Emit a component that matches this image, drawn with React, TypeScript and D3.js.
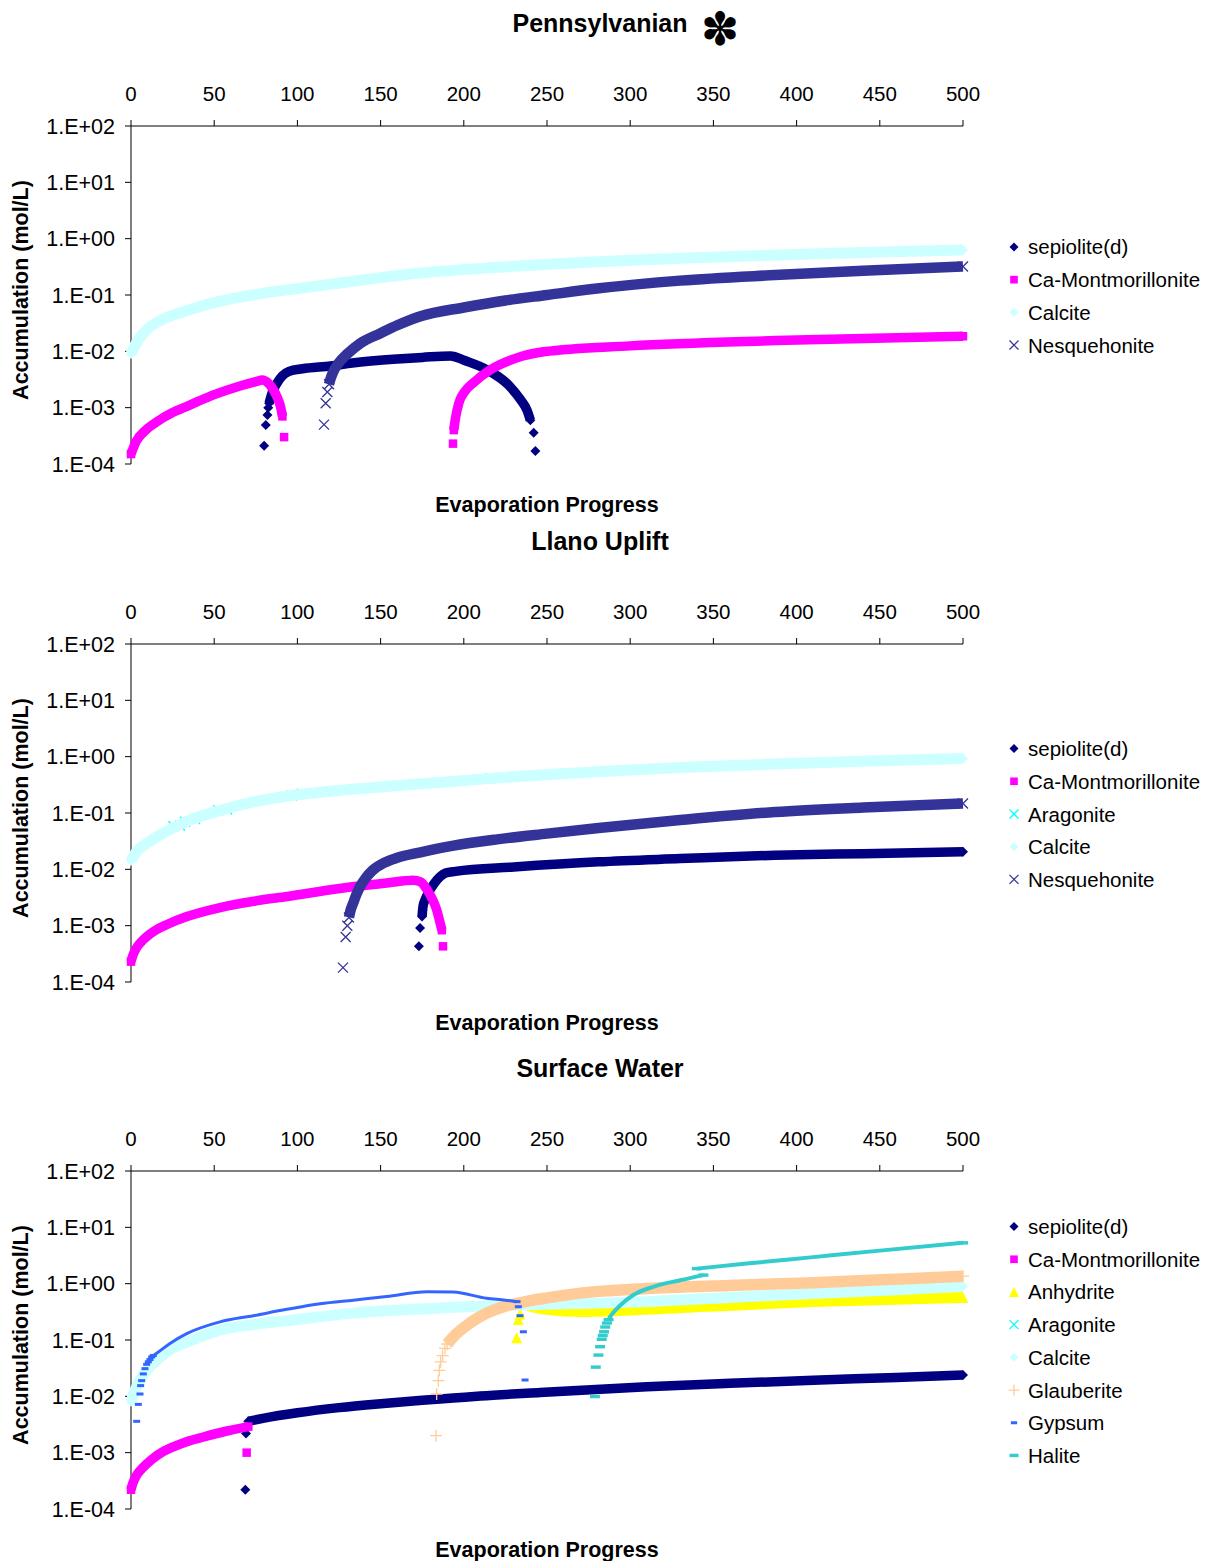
import React from 'react';
import * as d3 from 'd3';

type P = [number, number];

// ---------- axis data ----------
const X_TICKS = [0, 50, 100, 150, 200, 250, 300, 350, 400, 450, 500];
const Y_TICKS = [1e-4, 1e-3, 1e-2, 1e-1, 1, 10, 100];
const Y_TICK_LABELS = ['1.E-04', '1.E-03', '1.E-02', '1.E-01', '1.E+00', '1.E+01', '1.E+02'];
const X_TITLE = 'Evaporation Progress';
const Y_TITLE = 'Accumulation (mol/L)';
const PANEL_TITLES = ['Pennsylvanian', 'Llano Uplift', 'Surface Water'];

// ---------- Pennsylvanian ----------
const pa_sepiolite_iso: P[] = [[80, 2.1e-4], [81, 4.9e-4], [82, 7.4e-4], [82.5, 1e-3], [242, 3.6e-4], [243, 1.7e-4]];
const pa_sepiolite_band: P[] = [[83, 1.2e-3], [85, 1.9e-3], [88, 2.8e-3], [91, 3.7e-3], [95, 4.4e-3], [103, 4.9e-3], [120, 5.5e-3], [133, 6.2e-3], [160, 7.3e-3], [175, 7.8e-3], [192, 8.3e-3], [201, 6.8e-3], [214, 4.7e-3], [227, 2.5e-3], [234, 1.4e-3], [238, 9e-4], [240, 6e-4]];
const pa_camont_band1: P[] = [[0, 1.5e-4], [3, 2.5e-4], [8, 3.8e-4], [15, 5.5e-4], [25, 8.2e-4], [35, 1.1e-3], [50, 1.7e-3], [65, 2.4e-3], [75, 2.9e-3], [79, 3.1e-3], [82, 2.8e-3], [85, 2.2e-3], [88, 1.5e-3], [90, 1e-3], [91, 7e-4]];
const pa_camont_iso: P[] = [[92, 3e-4], [193.5, 2.3e-4]];
const pa_camont_band2: P[] = [[194, 4e-4], [195, 6.5e-4], [197, 1.2e-3], [201, 2e-3], [206, 2.8e-3], [216, 4.7e-3], [231, 7.5e-3], [248, 9.8e-3], [300, 1.25e-2], [387, 1.55e-2], [500, 1.85e-2]];
const pa_calcite_band: P[] = [[0, 0.009], [2, 0.012], [5, 0.017], [10, 0.025], [20, 0.038], [30, 0.049], [41, 0.062], [60, 0.085], [80, 0.108], [100, 0.13], [130, 0.17], [174, 0.245], [220, 0.31], [280, 0.39], [330, 0.45], [387, 0.51], [440, 0.57], [500, 0.63]];
const pa_nesq_iso: P[] = [[116, 5e-4], [117, 1.2e-3], [118, 1.9e-3]];
const pa_nesq_band: P[] = [[119, 2.6e-3], [120, 3.3e-3], [122, 4.6e-3], [125, 6.3e-3], [130, 9e-3], [138, 1.4e-2], [150, 2.1e-2], [160, 2.9e-2], [174, 4.2e-2], [200, 6e-2], [225, 8e-2], [250, 0.1], [280, 0.13], [330, 0.18], [387, 0.226], [440, 0.27], [500, 0.32]];

// ---------- Llano Uplift ----------
const ll_sepiolite_iso: P[] = [[173, 4.3e-4], [173.7, 9.1e-4]];
const ll_sepiolite_band: P[] = [[174.9, 1.45e-3], [175.5, 2.2e-3], [177, 3e-3], [179.7, 4.3e-3], [182, 5.5e-3], [185.7, 7.4e-3], [189, 8.6e-3], [195, 9.2e-3], [230, 1.1e-2], [281, 1.36e-2], [330, 1.55e-2], [387, 1.78e-2], [440, 1.9e-2], [500, 2.05e-2]];
const ll_camont_band: P[] = [[0, 2.3e-4], [1, 2.9e-4], [3, 3.9e-4], [6, 5.1e-4], [10, 6.6e-4], [15, 8.4e-4], [22, 1.06e-3], [33.6, 1.45e-3], [53.5, 2.1e-3], [75, 2.75e-3], [94, 3.3e-3], [133, 4.9e-3], [155, 5.8e-3], [169.5, 6.4e-3], [174, 6e-3], [178, 4.3e-3], [181, 3e-3], [183.7, 1.9e-3], [185.5, 1.2e-3], [186.8, 8.3e-4]];
const ll_camont_iso: P[] = [[187.5, 4.3e-4]];
const ll_aragonite_iso: P[] = [[25.5, 0.058], [29.4, 0.06], [32.5, 0.07], [38.5, 0.078], [52.5, 0.112], [57.7, 0.115], [96.7, 0.205], [102.7, 0.22], [216, 0.415], [385, 0.745]];
const ll_calcite_band: P[] = [[0, 0.014], [3, 0.02], [8, 0.027], [13, 0.034], [20, 0.045], [33, 0.07], [53, 0.11], [75, 0.16], [94, 0.2], [130, 0.26], [175, 0.33], [220, 0.42], [280, 0.54], [330, 0.64], [387, 0.74], [440, 0.83], [500, 0.93]];
const ll_nesq_iso: P[] = [[127.4, 1.8e-4], [129, 6.3e-4], [130, 1e-3]];
const ll_nesq_band: P[] = [[131, 1.4e-3], [132, 1.9e-3], [133.5, 2.5e-3], [135.5, 3.6e-3], [137.6, 4.9e-3], [141, 7e-3], [145, 9.5e-3], [152, 1.3e-2], [160, 1.6e-2], [174, 2e-2], [193, 2.6e-2], [220, 3.4e-2], [250, 4.3e-2], [281, 5.4e-2], [330, 7.5e-2], [387, 0.104], [440, 0.125], [500, 0.147]];

// ---------- Surface Water ----------
const sw_sepiolite_iso: P[] = [[68.7, 2.2e-4], [69.1, 2.2e-3]];
const sw_sepiolite_band: P[] = [[70.5, 3.6e-3], [80, 4.1e-3], [100, 5.1e-3], [125, 6.3e-3], [150, 7.4e-3], [175, 8.5e-3], [193.7, 9.3e-3], [210, 1.01e-2], [245.8, 1.17e-2], [310, 1.48e-2], [360, 1.7e-2], [410, 1.93e-2], [460, 2.17e-2], [500, 2.4e-2]];
const sw_camont_band: P[] = [[0, 2.2e-4], [1, 2.8e-4], [3, 3.8e-4], [6, 5e-4], [9.4, 6.3e-4], [14, 8.2e-4], [19, 1.03e-3], [25, 1.25e-3], [33, 1.55e-3], [43.5, 1.9e-3], [57, 2.4e-3], [70.5, 2.9e-3]];
const sw_camont_iso: P[] = [[69.5, 1e-3]];
const sw_anhydrite_iso: P[] = [[231.8, 0.11], [232.8, 0.23], [233.8, 0.29]];
const sw_anhydrite_band: P[] = [[235, 0.47], [240, 0.4], [250, 0.35], [270, 0.32], [300, 0.34], [350, 0.4], [410, 0.48], [460, 0.53], [500, 0.57]];
const sw_aragonite_iso: P[] = [];
const sw_calcite_band: P[] = [[0, 0.008], [3, 0.014], [6, 0.021], [9.4, 0.029], [15, 0.043], [23, 0.066], [35, 0.095], [53.5, 0.15], [75, 0.19], [93.6, 0.22], [133.6, 0.3], [193.7, 0.38], [233.8, 0.42], [310, 0.48], [360, 0.57], [410, 0.67], [460, 0.78], [500, 0.9]];
const sw_glauberite_iso: P[] = [[183.3, 2e-3], [183.7, 0.011], [184.7, 0.019], [185.3, 0.029], [186.1, 0.041], [187.3, 0.053], [188.7, 0.071]];
const sw_glauberite_band: P[] = [[190, 0.085], [193.7, 0.114], [203.7, 0.2], [213.7, 0.3], [223.8, 0.39], [240, 0.5], [250, 0.56], [270, 0.68], [310, 0.82], [360, 0.93], [410, 1.04], [460, 1.2], [500, 1.36]];
const sw_gypsum_iso: P[] = [[3.4, 3.6e-3], [4.4, 7.2e-3], [5.4, 0.011], [5.8, 0.0155], [6.4, 0.019], [7.4, 0.025], [8.4, 0.031], [9.4, 0.037], [10.4, 0.041], [11.4, 0.045], [12.4, 0.05], [232.8, 0.39], [233.8, 0.27], [235.8, 0.14], [236.8, 0.0195]];
const sw_gypsum_band: P[] = [[13.4, 0.053], [15.4, 0.058], [23.4, 0.087], [33.5, 0.13], [53.5, 0.21], [73.5, 0.27], [93.6, 0.35], [113.6, 0.44], [133.6, 0.51], [153.7, 0.59], [177.7, 0.72], [193.7, 0.71], [213.7, 0.55], [225, 0.51], [232, 0.48]];
const sw_halite_iso: P[] = [[278.8, 0.0099], [279.3, 0.033], [280.9, 0.054], [281.9, 0.076], [282.9, 0.103], [283.5, 0.12], [284.3, 0.14], [285, 0.17], [286, 0.2]];
const sw_halite_band1: P[] = [[287, 0.23], [288, 0.26], [290, 0.31], [293.9, 0.41], [301.9, 0.63], [313.9, 0.88], [330, 1.15], [344, 1.42]];
const sw_halite_band2: P[] = [[340, 1.85], [370, 2.27], [410, 2.96], [450, 3.86], [500, 5.3]];

// ---------- series styles ----------
type Shape = 'diamond' | 'square' | 'x' | 'triangle' | 'plus' | 'dash' | 'longdash';
interface Style { label: string; color: string; shape: Shape; band: number }
const STYLES: Record<string, Style> = {
  sepiolite: { label: 'sepiolite(d)', color: '#000080', shape: 'diamond', band: 9.5 },
  camont: { label: 'Ca-Montmorillonite', color: '#FF00FF', shape: 'square', band: 9.5 },
  anhydrite: { label: 'Anhydrite', color: '#FFFF00', shape: 'triangle', band: 11 },
  aragonite: { label: 'Aragonite', color: '#00FFFF', shape: 'x', band: 9 },
  calcite: { label: 'Calcite', color: '#CCFFFF', shape: 'diamond', band: 11 },
  glauberite: { label: 'Glauberite', color: '#FFCC99', shape: 'plus', band: 11.5 },
  gypsum: { label: 'Gypsum', color: '#3366FF', shape: 'dash', band: 3 },
  halite: { label: 'Halite', color: '#33CCCC', shape: 'longdash', band: 4 },
  nesq: { label: 'Nesquehonite', color: '#333399', shape: 'x', band: 10.5 },
};

interface Series { key: string; iso: P[]; bands: P[][] }

const PANELS: { title: string; top: number; series: Series[] }[] = [
  {
    title: PANEL_TITLES[0], top: 126, series: [
      { key: 'sepiolite', iso: pa_sepiolite_iso, bands: [pa_sepiolite_band] },
      { key: 'camont', iso: pa_camont_iso, bands: [pa_camont_band1, pa_camont_band2] },
      { key: 'calcite', iso: [], bands: [pa_calcite_band] },
      { key: 'nesq', iso: pa_nesq_iso, bands: [pa_nesq_band] },
    ],
  },
  {
    title: PANEL_TITLES[1], top: 644, series: [
      { key: 'sepiolite', iso: ll_sepiolite_iso, bands: [ll_sepiolite_band] },
      { key: 'camont', iso: ll_camont_iso, bands: [ll_camont_band] },
      { key: 'aragonite', iso: ll_aragonite_iso, bands: [] },
      { key: 'calcite', iso: [], bands: [ll_calcite_band] },
      { key: 'nesq', iso: ll_nesq_iso, bands: [ll_nesq_band] },
    ],
  },
  {
    title: PANEL_TITLES[2], top: 1171, series: [
      { key: 'sepiolite', iso: sw_sepiolite_iso, bands: [sw_sepiolite_band] },
      { key: 'camont', iso: sw_camont_iso, bands: [sw_camont_band] },
      { key: 'anhydrite', iso: sw_anhydrite_iso, bands: [sw_anhydrite_band] },
      { key: 'aragonite', iso: sw_aragonite_iso, bands: [] },
      { key: 'calcite', iso: [], bands: [sw_calcite_band] },
      { key: 'glauberite', iso: sw_glauberite_iso, bands: [sw_glauberite_band] },
      { key: 'gypsum', iso: sw_gypsum_iso, bands: [sw_gypsum_band] },
      { key: 'halite', iso: sw_halite_iso, bands: [sw_halite_band1, sw_halite_band2] },
    ],
  },
];

const FONT = '"Liberation Sans", Arial, Helvetica, sans-serif';
const LEFT = 131;
const RIGHT = 963;
const PH = 338;

function Marker({ shape, color, x, y, k = 1 }: { shape: Shape; color: string; x: number; y: number; k?: number }) {
  switch (shape) {
    case 'diamond': {
      const r = 5 * k;
      return <path d={`M${x},${y - r}L${x + r},${y}L${x},${y + r}L${x - r},${y}Z`} fill={color} />;
    }
    case 'square': {
      const s = 8.5 * k;
      return <rect x={x - s / 2} y={y - s / 2} width={s} height={s} fill={color} />;
    }
    case 'triangle': {
      const r = 5.5 * k;
      return <path d={`M${x},${y - r}L${x + r},${y + r}L${x - r},${y + r}Z`} fill={color} />;
    }
    case 'x': {
      const r = 5 * k;
      return <path d={`M${x - r},${y - r}L${x + r},${y + r}M${x - r},${y + r}L${x + r},${y - r}`} stroke={color} strokeWidth={1.3} fill="none" />;
    }
    case 'plus': {
      const r = 6 * k;
      return <path d={`M${x - r},${y}L${x + r},${y}M${x},${y - r}L${x},${y + r}`} stroke={color} strokeWidth={1.3} fill="none" />;
    }
    case 'dash':
      return <rect x={x - 3.5 * k} y={y - 1.5} width={7 * k} height={3} fill={color} />;
    case 'longdash':
      return <rect x={x - 5 * k} y={y - 1.7} width={10 * k} height={3.4} fill={color} />;
  }
  return null;
}

function Panel({ title, top, series, star }: { title: string; top: number; series: Series[]; star: boolean }) {
  const x = d3.scaleLinear().domain([0, 500]).range([LEFT, RIGHT]);
  const y = d3.scaleLog().domain([1e-4, 1e2]).range([top + PH, top]);
  const line = d3.line<P>().x((d) => x(d[0])).y((d) => y(d[1])).curve(d3.curveMonotoneX);
  const midY = top + PH / 2;
  const legendStep = 32.7;
  const legendStart = midY - ((series.length - 1) / 2) * legendStep + 1;

  return (
    <g>
      <text x={600} y={top - 94} textAnchor="middle" fontFamily={FONT} fontWeight="bold" fontSize={25}>{title}</text>
      {star && (
        <text x={720} y={top - 81} textAnchor="middle" fontFamily='"DejaVu Sans", sans-serif' fontSize={46}>✽</text>
      )}
      {/* axes */}
      <line x1={LEFT} x2={RIGHT} y1={top} y2={top} stroke="#000" strokeWidth={1} />
      <line x1={LEFT} x2={LEFT} y1={top} y2={top + PH} stroke="#000" strokeWidth={1} />
      {X_TICKS.map((t) => (
        <g key={'xt' + t}>
          <line x1={x(t)} x2={x(t)} y1={top} y2={top - 6} stroke="#000" />
          <text x={x(t)} y={top - 25} textAnchor="middle" fontFamily={FONT} fontSize={20.5}>{t}</text>
        </g>
      ))}
      {Y_TICKS.map((t, i) => (
        <g key={'yt' + i}>
          <line x1={LEFT - 6} x2={LEFT} y1={y(t)} y2={y(t)} stroke="#000" />
          <text x={115} y={y(t) + 7.5} textAnchor="end" fontFamily={FONT} fontSize={21.5}>{Y_TICK_LABELS[i]}</text>
        </g>
      ))}
      <text x={547} y={top + PH + 48} textAnchor="middle" fontFamily={FONT} fontWeight="bold" fontSize={21.5}>{X_TITLE}</text>
      <text transform={`translate(28,${midY - 5}) rotate(-90)`} textAnchor="middle" fontFamily={FONT} fontWeight="bold" fontSize={21.5}>{Y_TITLE}</text>

      {/* data */}
      {series.map((s) => {
        const st = STYLES[s.key];
        return (
          <g key={s.key}>
            {s.bands.map((b, bi) => (
              <path key={'b' + bi} d={line(b) || ''} fill="none" stroke={st.color} strokeWidth={st.band} strokeLinejoin="round" />
            ))}
            {s.bands.map((b, bi) =>
              [b[0], b[b.length - 1]].map((p, pi) => (
                <Marker key={`bm${bi}-${pi}`} shape={st.shape} color={st.color} x={x(p[0])} y={y(p[1])} />
              ))
            )}
            {s.iso.map((p, pi) => (
              <Marker key={'i' + pi} shape={st.shape} color={st.color} x={x(p[0])} y={y(p[1])} />
            ))}
          </g>
        );
      })}

      {/* legend */}
      {series.map((s, i) => {
        const st = STYLES[s.key];
        const ly = legendStart + i * legendStep;
        return (
          <g key={'lg' + s.key}>
            <Marker shape={st.shape} color={st.color} x={1014} y={ly} k={0.9} />
            <text x={1028} y={ly + 7.5} fontFamily={FONT} fontSize={20.5}>{st.label}</text>
          </g>
        );
      })}
    </g>
  );
}

export default function App() {
  return (
    <svg width={1214} height={1561} style={{ position: 'absolute', left: 0, top: 0, background: '#fff' }}>
      <rect width={1214} height={1561} fill="#fff" />
      {PANELS.map((p, i) => (
        <Panel key={i} title={p.title} top={p.top} series={p.series} star={i === 0} />
      ))}
    </svg>
  );
}
